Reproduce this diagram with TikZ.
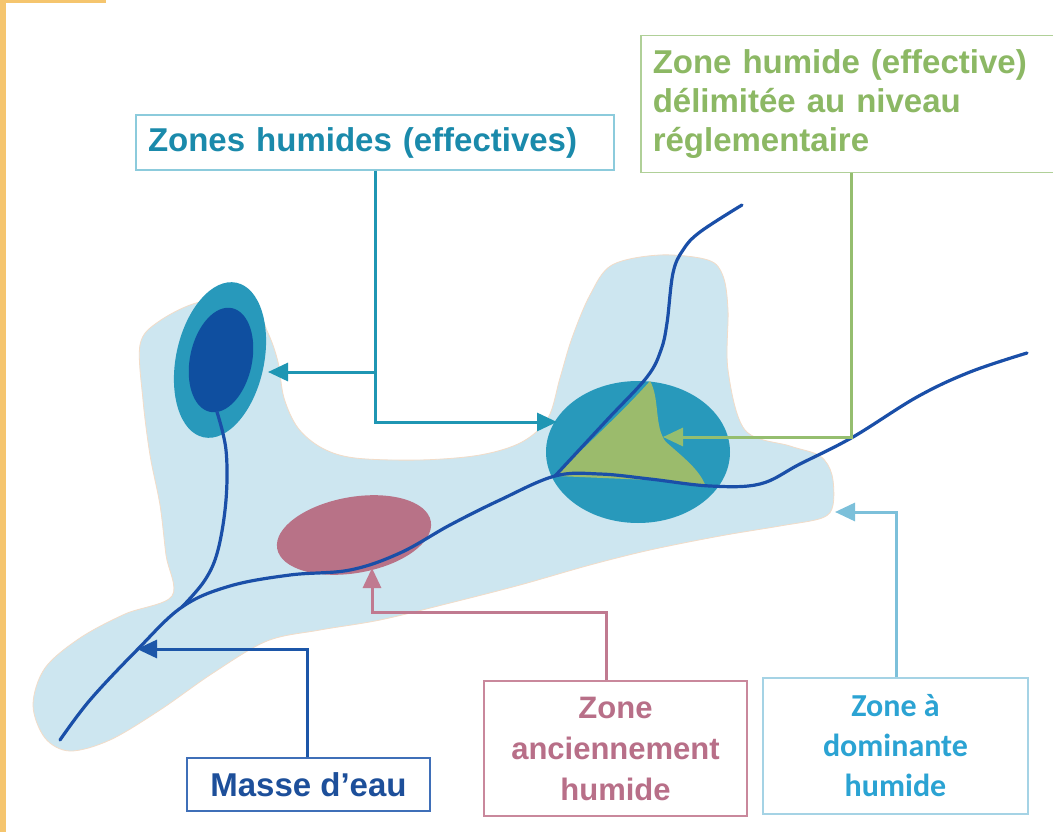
\documentclass[tikz,border=0pt]{standalone}
\usepackage{fontspec}
\setmainfont{Liberation Sans}
\newfontfamily\calibrifont{Carlito}
\usetikzlibrary{arrows.meta}
\definecolor{orangebar}{HTML}{F5C56E}
\definecolor{lightzone}{HTML}{CDE6F0}
\definecolor{peach}{HTML}{F2DCC8}
\definecolor{tealz}{HTML}{2899BB}
\definecolor{darkz}{HTML}{0F4FA0}
\definecolor{pinkz}{HTML}{B87287}
\definecolor{greenz}{HTML}{9BBB6C}
\definecolor{riverc}{HTML}{1A4FA8}
\definecolor{tealline}{HTML}{1F96B3}
\definecolor{tealtext}{HTML}{1A8AAB}
\definecolor{tealborder}{HTML}{8CCBDC}
\definecolor{greenline}{HTML}{95BE6F}
\definecolor{greentext}{HTML}{8CB864}
\definecolor{greenborder}{HTML}{B0D098}
\definecolor{blueline}{HTML}{1C56A8}
\definecolor{bluetext}{HTML}{1D4F9A}
\definecolor{blueborder}{HTML}{3F6FB8}
\definecolor{pinkline}{HTML}{C07A90}
\definecolor{pinktext}{HTML}{B86F88}
\definecolor{pinkborder}{HTML}{C9889C}
\definecolor{skyline}{HTML}{7CC0DA}
\definecolor{skytext}{HTML}{2BA3D3}
\definecolor{skyborder}{HTML}{A5D3E5}
\begin{document}
\begin{tikzpicture}[x=1pt,y=-1pt,
  labelbox/.style={draw, fill=white, line width=1.5pt, inner sep=0pt},
  conn/.style={line width=3pt, -{Triangle[length=20pt,width=18pt]}},
  river/.style={draw=riverc, line width=3.2pt, line cap=round, line join=round},
  bigfont/.style={font={\fontsize{33}{39}\selectfont\bfseries}}]
\useasboundingbox (0,0) rectangle (1053,832);
\clip (0,0) rectangle (1053,832);
\fill[white] (0,0) rectangle (1053,832);
\fill[orangebar] (0,0) rectangle (6,832);
\fill[orangebar] (0,0) rectangle (106,3.5);

% light blue zone
\fill[lightzone, draw=peach, line width=0.8pt] plot[smooth cycle, tension=0.55] coordinates {
 (140,345) (158,322) (200,302) (250,302) (268,333) (278,362) (284,398) (298,428)
 (322,448) (355,458) (420,460) (480,455) (522,442) (548,418) (560,378) (572,338)
 (590,295) (612,265) (660,255) (708,260) (723,276) (728,310) (728,370) (745,430)
 (790,446) (820,456) (832,475) (833,505) (822,518) (780,526) (720,536) (650,550)
 (590,565) (520,585) (450,603) (380,620) (320,630) (267,641) (213,673) (160,710)
 (110,740) (70,751) (45,738) (33,705) (45,668) (80,638) (125,614) (172,596)
 (166,555) (160,505) (150,455) (143,400)};

% wet zones
\fill[tealz, rotate around={-12:(220,360)}] (220,360) ellipse [x radius=44pt, y radius=79pt];
\fill[darkz, rotate around={-12:(221,360)}] (221,360) ellipse [x radius=31pt, y radius=53pt];
\fill[tealz] (638,452) ellipse [x radius=92pt, y radius=71pt];
\fill[pinkz, rotate around={10:(354,535)}] (354,535) ellipse [x radius=78pt, y radius=38pt];
\fill[greenz] (650,381) .. controls (660,398) and (654,428) .. (666,442)
  .. controls (684,458) and (700,470) .. (706,487) -- (650,480) -- (556,476)
  .. controls (580,450) and (620,415) .. (650,381) -- cycle;

% rivers
\draw[river] plot[smooth, tension=0.6] coordinates {
 (60,740) (90,700) (137,650) (182,607) (230,586) (290,575) (350,570) (400,553)
 (450,525) (500,500) (555,476) (600,474) (650,479) (710,486) (760,484) (800,464)
 (853,437) (917,397) (970,372) (1027,353)};
\draw[river] plot[smooth, tension=0.6] coordinates {
 (555,476) (607,420) (647,377) (661,350) (667,323) (673,273) (683,250) (700,232) (742,205)};
\draw[river] plot[smooth, tension=0.6] coordinates {
 (217,412) (226,450) (226,500) (218,550) (205,580) (182,607)};

% labels
\node[labelbox, draw=tealborder, text=tealtext, bigfont, text width=454pt, align=left,
  inner xsep=12pt, minimum height=55pt] (zh) at (375,142.5) {Zones humides (effectives)};
\node[labelbox, draw=greenborder, text=greentext, bigfont, text width=406pt, align=left,
  inner xsep=12pt, inner ysep=14pt, text depth=85pt, anchor=north west] (zg) at (640,35)
  {Zone humide (effective)\\délimitée au niveau\\réglementaire};
\node[labelbox, draw=blueborder, text=bluetext, bigfont, minimum width=243pt,
  minimum height=53pt] (me) at (308.5,784.5) {Masse d’eau};
\node[labelbox, draw=pinkborder, text=pinktext, font={\fontsize{31}{41}\selectfont\bfseries},
  align=center, minimum width=263pt, minimum height=135pt] (za) at (615.5,748.5)
  {Zone\\anciennement\\humide};
\node[labelbox, draw=skyborder, text=skytext, font={\calibrifont\fontsize{32}{40}\selectfont\bfseries},
  align=center, minimum width=265pt, minimum height=136pt] (zd) at (895.5,746)
  {Zone à\\dominante\\humide};

% connector points
\coordinate (zhJ) at (375,372);
\coordinate (zhL) at (268,372);
\coordinate (zhC) at (375,422);
\coordinate (zhR) at (557,422);
\coordinate (zgC) at (851,437);
\coordinate (zgT) at (663,437);
\coordinate (meC) at (307,649);
\coordinate (meT) at (137,649);
\coordinate (zaC1) at (606,612);
\coordinate (zaC2) at (372,612);
\coordinate (zaT) at (372,568);
\coordinate (zdC) at (896,512);
\coordinate (zdT) at (835,512);

% connectors
\draw[conn, tealline] (zh.south) -- (zhC) -- (zhR);
\draw[conn, tealline] (zhJ) -- (zhL);
\draw[conn, greenline] (zg.south -| zgC) -- (zgC) -- (zgT);
\draw[conn, blueline] (me.north -| meC) -- (meC) -- (meT);
\draw[conn, pinkline] (za.north -| zaC1) -- (zaC1) -- (zaC2) -- (zaT);
\draw[conn, skyline] (zd.north -| zdC) -- (zdC) -- (zdT);
\end{tikzpicture}
\end{document}
